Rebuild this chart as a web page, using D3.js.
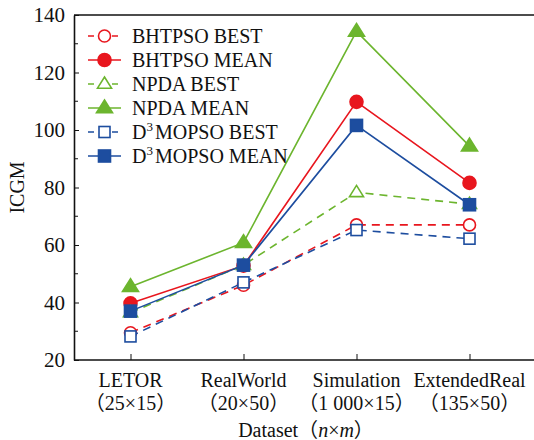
<!DOCTYPE html>
<html>
<head>
<meta charset="utf-8">
<script src="https://cdn.jsdelivr.net/npm/d3@7"></script>
<style>
  body { margin: 0; background: #fff; }
  svg text { font-family: "Liberation Serif", "Noto Sans CJK SC", serif; fill: #111; }
</style>
</head>
<body>
<div id="chart"></div>
<script>
var categories = ["LETOR", "RealWorld", "Simulation", "ExtendedReal"];
var sizes = ["（25×15）", "（20×50）", "（1 000×15）", "（135×50）"];
var yTicks = [20, 40, 60, 80, 100, 120, 140];

var bhtpsoBest = [29.5, 46, 67, 67];
var bhtpsoMean = [39.7, 52.8, 109.8, 81.6];
var npdaBest = [36.5, 53, 78.3, 74.2];
var npdaMean = [45.5, 60.8, 134.3, 94.4];
var d3mopsoBest = [28.2, 47, 65.2, 62.2];
var d3mopsoMean = [37, 53, 101.6, 74];

var red = "#e8161e", green = "#6cb52e", blue = "#1d4d9f";

var series = [
  {name: "BHTPSO BEST", sup: null, values: bhtpsoBest, color: red, dash: true, shape: "circle", fill: false},
  {name: "BHTPSO MEAN", sup: null, values: bhtpsoMean, color: red, dash: false, shape: "circle", fill: true},
  {name: "NPDA BEST", sup: null, values: npdaBest, color: green, dash: true, shape: "triangle", fill: false},
  {name: "NPDA MEAN", sup: null, values: npdaMean, color: green, dash: false, shape: "triangle", fill: true},
  {name: "MOPSO BEST", sup: "3", values: d3mopsoBest, color: blue, dash: true, shape: "square", fill: false},
  {name: "MOPSO MEAN", sup: "3", values: d3mopsoMean, color: blue, dash: false, shape: "square", fill: true}
];

var w = 534, h = 440;
var mLeft = 74, mTop = 15, mBottom = 360, mRight = 526;

var svg = d3.select("#chart").append("svg")
  .attr("width", w).attr("height", h);

var x = d3.scalePoint().domain(categories).range([mLeft, mRight]).padding(0.5);
var y = d3.scaleLinear().domain([20, 140]).range([mBottom, mTop]);

// frame: left, top, bottom (right side runs off the picture)
svg.append("line").attr("x1", mLeft).attr("x2", w).attr("y1", mTop).attr("y2", mTop)
  .attr("stroke", "#111").attr("stroke-width", 1.6);
svg.append("line").attr("x1", mLeft).attr("x2", w).attr("y1", mBottom).attr("y2", mBottom)
  .attr("stroke", "#111").attr("stroke-width", 1.6);

// y axis with inward ticks
var yAxis = d3.axisLeft(y).tickValues(yTicks).tickSizeInner(-5).tickSizeOuter(0).tickPadding(9);
var gy = svg.append("g").attr("transform", "translate(" + mLeft + ",0)").call(yAxis);
gy.select(".domain").attr("stroke", "#111").attr("stroke-width", 1.6);
gy.selectAll(".tick line").attr("stroke", "#111");
gy.selectAll(".tick text").style("font-size", "21px").style("font-family", "Liberation Serif").attr("fill", "#111");
// minor ticks
svg.selectAll(".minor").data(d3.range(30, 140, 20)).enter().append("line")
  .attr("x1", mLeft).attr("x2", mLeft + 4)
  .attr("y1", function(d) { return y(d); }).attr("y2", function(d) { return y(d); })
  .attr("stroke", "#111");

// x axis ticks inward
var xAxis = d3.axisBottom(x).tickSizeInner(-6).tickSizeOuter(0).tickFormat("");
var gx = svg.append("g").attr("transform", "translate(0," + mBottom + ")").call(xAxis);
gx.select(".domain").remove();
gx.selectAll(".tick line").attr("stroke", "#111");

categories.forEach(function(c, i) {
  svg.append("text").attr("x", x(c)).attr("y", 387).attr("text-anchor", "middle")
    .style("font-size", "20px").text(c);
  svg.append("text").attr("x", x(c)).attr("y", 410).attr("text-anchor", "middle")
    .style("font-size", "20px").text(sizes[i]);
});

var title = svg.append("text").attr("x", 306).attr("y", 437)
  .attr("text-anchor", "middle").style("font-size", "20px");
title.append("tspan").text("Dataset（");
title.append("tspan").style("font-style", "italic").text("n");
title.append("tspan").text("×");
title.append("tspan").style("font-style", "italic").text("m");
title.append("tspan").text("）");

svg.append("text").attr("transform", "translate(24," + ((mTop + mBottom) / 2) + ") rotate(-90)")
  .attr("text-anchor", "middle").style("font-size", "20px").text("ICGM");

function marker(g, shape, cx, cy, color, fill) {
  var f = fill ? color : "#fff";
  if (shape === "circle") {
    g.append("circle").attr("cx", cx).attr("cy", cy).attr("r", fill ? 6.5 : 6)
      .attr("fill", f).attr("stroke", color).attr("stroke-width", 1.6);
  } else if (shape === "triangle") {
    var s = fill ? 8 : 7;
    g.append("path")
      .attr("d", "M" + cx + "," + (cy - s) + "L" + (cx + s) + "," + (cy + s * 0.6) + "L" + (cx - s) + "," + (cy + s * 0.6) + "Z")
      .attr("fill", f).attr("stroke", color).attr("stroke-width", 1.6);
  } else {
    var a = fill ? 6 : 5.5;
    g.append("rect").attr("x", cx - a).attr("y", cy - a).attr("width", 2 * a).attr("height", 2 * a)
      .attr("fill", f).attr("stroke", color).attr("stroke-width", 1.6);
  }
}

var line = d3.line().x(function(d, i) { return x(categories[i]); }).y(function(d) { return y(d); });

series.forEach(function(s) {
  var g = svg.append("g");
  g.append("path").datum(s.values).attr("d", line)
    .attr("fill", "none").attr("stroke", s.color).attr("stroke-width", 1.6)
    .attr("stroke-dasharray", s.dash ? "8,6" : null);
  s.values.forEach(function(v, i) {
    marker(g, s.shape, x(categories[i]), y(v), s.color, s.fill);
  });
});

// legend
series.forEach(function(s, i) {
  var ly = 36 + i * 24;
  var g = svg.append("g");
  g.append("line").attr("x1", 88).attr("x2", 121).attr("y1", ly).attr("y2", ly)
    .attr("stroke", s.color).attr("stroke-width", 1.6)
    .attr("stroke-dasharray", s.dash ? "6,6" : null);
  marker(g, s.shape, 104.5, ly, s.color, s.fill);
  var t = g.append("text").attr("x", 132).attr("y", ly + 7).style("font-size", "20px");
  if (s.sup) {
    t.append("tspan").text("D");
    t.append("tspan").attr("dy", -8).style("font-size", "13px").text(s.sup);
    t.append("tspan").attr("dy", 8).attr("dx", 2).text(s.name);
  } else {
    t.text(s.name);
  }
});
</script>
</body>
</html>
